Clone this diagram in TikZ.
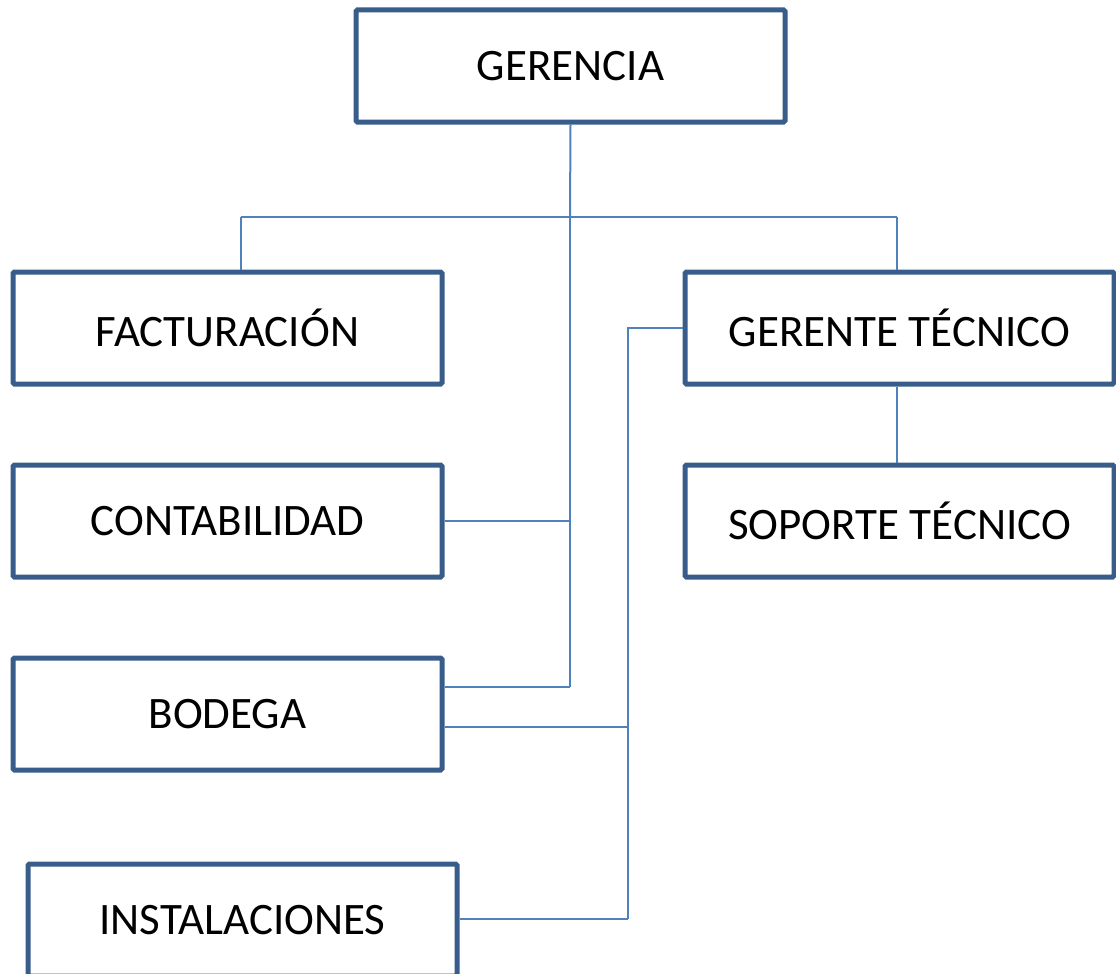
\documentclass[tikz,border=0pt]{standalone}
\usepackage{fontspec}
\setmainfont{Carlito}
\definecolor{boxblue}{HTML}{385D8A}
\definecolor{lineblue}{HTML}{4F81BD}
\begin{document}
\begin{tikzpicture}[x=1pt,y=-1pt,
  orgbox/.style={draw=boxblue, line width=5pt, fill=white, rounded corners=1.5pt,
    minimum width=429pt, minimum height=112pt, inner sep=0pt,
    font=\fontsize{45}{54}\selectfont, text=black},
  conn/.style={draw=lineblue, line width=2pt}]
\useasboundingbox (0,0) rectangle (1116,974);
\clip (0,0) rectangle (1116,974);
\coordinate (jtop) at (570,217);
\coordinate (jgl) at (241,217);
\coordinate (jgr) at (897,217);
\coordinate (vl) at (570,687);
\coordinate (tecv) at (628,328);
\coordinate (tecb) at (628,919);
\node[orgbox] (ger) at (570.5,66) {GERENCIA};
\node[orgbox] (fac) at (227.5,328) {FACTURACIÓN};
\node[orgbox] (gt) at (899.5,328) {GERENTE TÉCNICO};
\node[orgbox] (con) at (227.5,521) {CONTABILIDAD};
\node[orgbox] (sop) at (899.5,521) {SOPORTE TÉCNICO};
\node[orgbox] (bod) at (227.5,714) {BODEGA};
\node[orgbox] (ins) at (242.5,920) {INSTALACIONES};
\draw[conn] (ger.south) -- (jtop);
\draw[conn] (jgl) -- (jgr);
\draw[conn] (jgl) -- (jgl |- fac.north);
\draw[conn] (jgr) -- (jgr |- gt.north);
\draw[conn] (jtop) -- (vl);
\draw[conn] (con.east) -- (con.east -| jtop);
\draw[conn] (bod.east |- vl) -- (vl);
\draw[conn] (gt.west |- tecv) -- (tecv) -- (tecb);
\draw[conn] (bod.east |- 0,727) -- (628,727);
\draw[conn] (ins.east |- tecb) -- (tecb);
\draw[conn] (gt.south -| jgr) -- (jgr |- sop.north);
\end{tikzpicture}
\end{document}
